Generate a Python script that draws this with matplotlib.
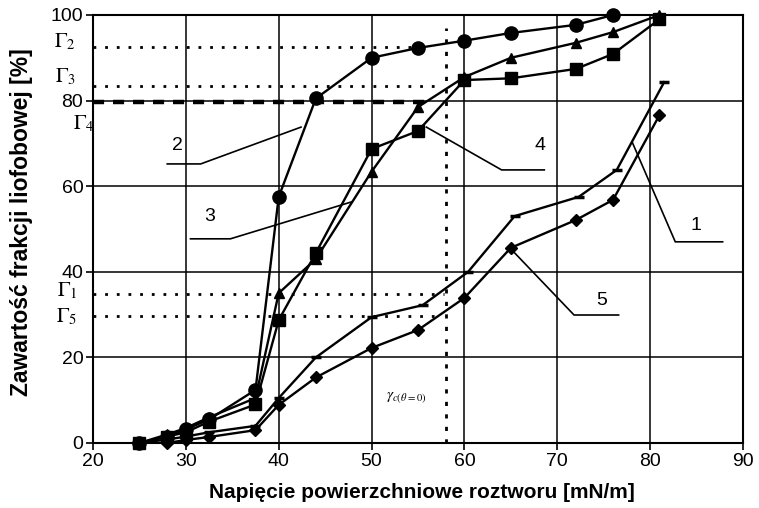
import matplotlib.pyplot as plt

plt.rcParams['font.family'] = ['Liberation Sans', 'DejaVu Sans']
plt.rcParams['mathtext.fontset'] = 'stix'

# curve 1 - small dash markers
x1 = [25, 28, 30, 32.5, 37.5, 40, 44, 50, 55.5, 60.4, 65.4, 72.3, 76.4, 81.5]
y1 = [0, 0.8, 1.5, 2.5, 4, 10.5, 20, 29.4, 32.2, 40, 53, 57.5, 63.8, 84.3]
# curve 2 - circles
x2 = [25, 28, 30, 32.5, 37.5, 40, 44, 50, 55, 60, 65, 72, 76]
y2 = [0, 1.5, 3.2, 5.5, 12.4, 57.5, 80.5, 90, 92.3, 94, 95.8, 97.7, 100]
# curve 3 - triangles
x3 = [25, 28, 30, 32.5, 37.5, 40, 44, 50, 55, 60, 65, 72, 76, 81]
y3 = [0, 2, 3.5, 6, 10.5, 35, 43, 63.4, 78.5, 85.5, 90, 93.5, 96, 100]
# curve 4 - squares
x4 = [25, 28, 30, 32.5, 37.5, 40, 44, 50, 55, 60, 65, 72, 76, 81]
y4 = [0, 1.5, 2.5, 5, 9, 28.7, 44.4, 68.7, 72.9, 84.8, 85.2, 87.4, 90.9, 99]
# curve 5 - diamonds
x5 = [28, 30, 32.5, 37.5, 40, 44, 50, 55, 60, 65, 72, 76, 81]
y5 = [0, 0.7, 1.4, 3, 8.9, 15.3, 22.2, 26.4, 33.9, 45.6, 52.1, 56.8, 76.6]

# Gamma levels and where the dotted lines stop
gamma_names = ['2', '3', '4', '1', '5']
gamma_vals = [92.6, 83.4, 79.6, 34.8, 29.7]
gamma_ends = [55, 57.5, 56.4, 57.8, 57.4]
gamma_crit = 58.0

# leader lines for curve numbers
leaders = {
    '1': ([87.8, 82.7, 78.1], [47, 47, 70.1]),
    '2': ([28.0, 31.6, 42.4], [65.2, 65.2, 73.8]),
    '3': ([30.5, 34.8, 47.8], [47.7, 47.7, 56.3]),
    '4': ([68.6, 64.0, 55.9], [63.8, 63.8, 73.8]),
    '5': ([76.6, 71.8, 65.1], [29.9, 29.9, 45.1]),
}
label_pos = {'1': (84.9, 50.9), '2': (29.1, 69.6), '3': (32.6, 52.8),
             '4': (68.1, 69.6), '5': (74.8, 33.4)}

fig = plt.figure(figsize=(7.59, 5.08), dpi=100)
ax = fig.add_axes([0.1225, 0.128, 0.8565, 0.8425])

ax.set_xlim(20, 90)
ax.set_ylim(0, 100)
ax.set_xticks(range(20, 91, 10))
ax.set_yticks(range(0, 101, 20))
ax.grid(True, color='black', linewidth=1.1)
ax.set_axisbelow(True)
for s in ax.spines.values():
    s.set_linewidth(1.5)
ax.tick_params(direction='out', length=5, width=1.2, labelsize=14, pad=2)

# dotted Gamma lines
for name, v, e in zip(gamma_names, gamma_vals, gamma_ends):
    if name == '4':
        ax.plot([20, e], [v, v], color='black', lw=3.2, ls=(0, (2.5, 2.0)))
    else:
        ax.plot([20, e], [v, v], color='black', lw=2.0, ls=(0, (1, 3.2)))
ax.plot([gamma_crit, gamma_crit], [0, 97], color='black', lw=2.0,
        ls=(0, (1.5, 3.0)))

lw = 1.7
ax.plot(x1, y1, color='black', lw=lw, marker='_', ms=7, mew=2.5,
        clip_on=False)
ax.plot(x2, y2, color='black', lw=lw, marker='o', ms=9.5, clip_on=False)
ax.plot(x3, y3, color='black', lw=lw, marker='^', ms=6.5, clip_on=False)
ax.plot(x4, y4, color='black', lw=lw, marker='s', ms=9, clip_on=False)
ax.plot(x5, y5, color='black', lw=lw, marker='D', ms=6.5, clip_on=False)

for k, (lx, ly) in leaders.items():
    ax.plot(lx, ly, color='black', lw=1.2, clip_on=False)
    px, py = label_pos[k]
    ax.text(px, py, k, fontsize=14, ha='center', va='center')

# Gamma labels to the left of the axis (x in axes fraction)
gamma_text = {'2': (-0.043, 93.7), '3': (-0.043, 85.5), '4': (-0.015, 74.6),
              '1': (-0.040, 35.5), '5': (-0.040, 29.4)}
for name in gamma_names:
    xt, yt = gamma_text[name]
    ax.text(xt, yt, r'$\Gamma_{%s}$' % name,
            transform=ax.get_yaxis_transform(), fontsize=15,
            ha='center', va='center', clip_on=False)

ax.text(53.7, 10.5, r'$\gamma_{c(\theta=0)}$', fontsize=11,
        ha='center', va='center')

ax.set_xlabel('Napięcie powierzchniowe roztworu [mN/m]', fontsize=15,
              fontweight='bold')
ax.set_ylabel('Zawartość frakcji liofobowej [%]', fontsize=16.5,
              fontweight='bold')
ax.xaxis.set_label_coords(0.506, -0.093)
ax.xaxis.label.set_va('top')
ax.yaxis.set_label_coords(-0.092, 0.516)

fig.savefig('out.png', dpi=100)
